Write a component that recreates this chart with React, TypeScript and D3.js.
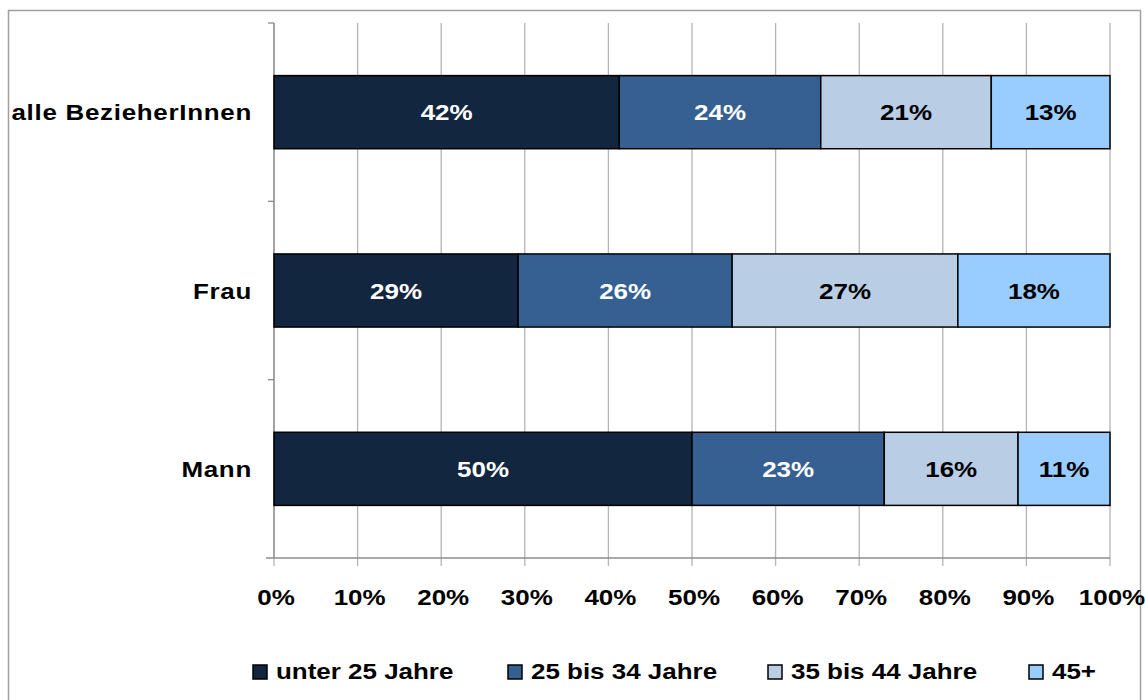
import React from "react";
import * as d3 from "d3";

const categories = ["alle BezieherInnen", "Frau", "Mann"];
const seriesNames = ["unter 25 Jahre", "25 bis 34 Jahre", "35 bis 44 Jahre", "45+"];
const under25 = [41.3, 29.2, 50.0];
const age25to34 = [24.1, 25.6, 23.0];
const age35to44 = [20.4, 27.0, 16.0];
const age45plus = [14.2, 18.2, 11.0];
const labelsUnder25 = ["42%", "29%", "50%"];
const labels25to34 = ["24%", "26%", "23%"];
const labels35to44 = ["21%", "27%", "16%"];
const labels45plus = ["13%", "18%", "11%"];
const xTicks = [0, 10, 20, 30, 40, 50, 60, 70, 80, 90, 100];
const colors = ["#13263f", "#366092", "#b9cde5", "#99ccff"];
const textColors = ["#ffffff", "#ffffff", "#000000", "#000000"];

const W = 1145, H = 700;
const left = 274, right = 1110, top = 23, bottom = 558;
const FS = 22, SX = 1.18;
const font = "'Liberation Sans', Arial, sans-serif";

export default function App() {
  const x = d3.scaleLinear().domain([0, 100]).range([left, right]);
  const y = d3.scaleBand().domain(categories).range([top, bottom]).paddingInner(0.59).paddingOuter(0.295);
  const yOuter = d3.scaleBand().domain(categories).range([top, bottom]);
  const series = [under25, age25to34, age35to44, age45plus];
  const labels = [labelsUnder25, labels25to34, labels35to44, labels45plus];
  const rows = categories.map((c, i) => {
    const o: any = { cat: c };
    seriesNames.forEach((s, j) => (o[s] = series[j][i]));
    return o;
  });
  const stacked = d3.stack().keys(seriesNames)(rows);
  const legendX = [253, 508, 768, 1029];

  const T = (props: any) => {
    const { x: tx, y: ty, anchor, fill, children, ls } = props;
    return (
      <text
        transform={`translate(${tx},${ty}) scale(${SX},1)`}
        textAnchor={anchor || "start"}
        fill={fill || "#000"}
        fontFamily={font}
        fontWeight="bold"
        fontSize={FS}
        letterSpacing={ls || 0}
      >
        {children}
      </text>
    );
  };

  return (
    <svg width={W} height={H} style={{ position: "absolute", left: 0, top: 0 }}>
      <rect x={0} y={0} width={W} height={H} fill="#fff" />
      <rect x={8.5} y={10.5} width={1132} height={720} fill="#fff" stroke="#a0a0a0" strokeWidth={1.5} />
      {/* gridlines */}
      {xTicks.map((t) => (
        <line key={"g" + t} x1={x(t)} x2={x(t)} y1={top} y2={bottom + 8} stroke="#b4b4b4" strokeWidth={1.3} />
      ))}
      {/* axes */}
      <line x1={left} x2={left} y1={top} y2={bottom} stroke="#8c8c8c" strokeWidth={1.3} />
      <line x1={left - 8} x2={right} y1={bottom} y2={bottom} stroke="#8c8c8c" strokeWidth={1.3} />
      {categories.map((c) => (
        <line key={"yt" + c} x1={left - 6} x2={left} y1={yOuter(c)!} y2={yOuter(c)!} stroke="#8c8c8c" strokeWidth={1.3} />
      ))}
      {/* bars */}
      {stacked.map((layer, j) =>
        layer.map((d, i) => (
          <rect
            key={j + "-" + i}
            x={x(d[0])}
            y={y(categories[i])!}
            width={x(d[1]) - x(d[0])}
            height={y.bandwidth()}
            fill={colors[j]}
            stroke="#000"
            strokeWidth={1.5}
          />
        ))
      )}
      {/* value labels */}
      {stacked.map((layer, j) =>
        layer.map((d, i) => (
          <T key={"l" + j + "-" + i} x={(x(d[0]) + x(d[1])) / 2} y={y(categories[i])! + y.bandwidth() / 2 + 8} anchor="middle" fill={textColors[j]}>
            {labels[j][i]}
          </T>
        ))
      )}
      {/* category labels */}
      {categories.map((c) => (
        <T key={"c" + c} x={252} y={y(c)! + y.bandwidth() / 2 + 8} anchor="end" ls={0.6}>
          {c}
        </T>
      ))}
      {/* x tick labels */}
      {xTicks.map((t) => (
        <T key={"xt" + t} x={x(t) + 2} y={605} anchor="middle">
          {t + "%"}
        </T>
      ))}
      {/* legend */}
      {seriesNames.map((s, j) => (
        <g key={"lg" + s}>
          <rect x={legendX[j]} y={665} width={14} height={14} fill={colors[j]} stroke="#000" strokeWidth={1.5} />
          <T x={legendX[j] + 23} y={679}>{s}</T>
        </g>
      ))}
    </svg>
  );
}
